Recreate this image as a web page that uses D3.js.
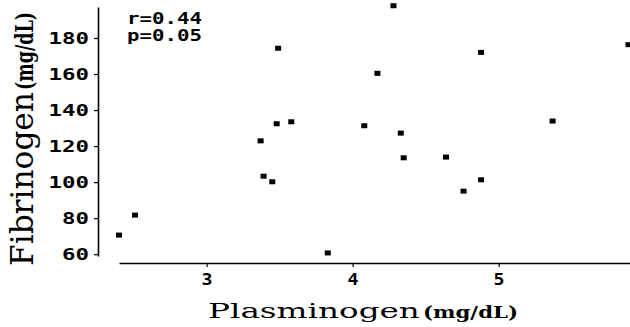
<!DOCTYPE html>
<html>
<head>
<meta charset="utf-8">
<script src="https://cdn.jsdelivr.net/npm/d3@7"></script>
<style>
  html, body { margin: 0; padding: 0; background: #fff; }
  svg { display: block; }
  .tick-label { font-family: "DejaVu Sans Mono", monospace; font-weight: bold; font-size: 15px; fill: #000; }
  .title { font-family: "DejaVu Serif", serif; fill: #000; }
</style>
</head>
<body>
<svg id="chart" width="630" height="327"></svg>
<script>
// Plasminogen (mg/dL) vs Fibrinogen (mg/dL)
const plasminogen = [2.40, 2.51, 3.37, 3.39, 3.45, 3.48, 3.49, 3.58, 3.83, 4.08,
  4.17, 4.28, 4.33, 4.35, 4.64, 4.76, 4.88, 4.88, 5.37, 5.89];
const fibrinogen = [70.6, 81.7, 122.9, 103.3, 100.2, 132.4, 174.3, 133.5, 60.7, 131.3,
  160.4, 197.9, 127.2, 113.5, 113.9, 95.0, 101.3, 172.0, 133.9, 176.3];

const xTicks = [3, 4, 5];
const yTicks = [60, 80, 100, 120, 140, 160, 180];
const statLines = ['r=0.44', 'p=0.05'];

const xTitle = ['Plasminogen', '(mg/dL)'];
const yTitle = ['Fibrinogen', '(mg/dL)'];

const svg = d3.select('#chart');

// Axes are offset from each other (no shared corner)
const x = d3.scaleLinear().domain([2.4, 5.9]).range([119, 630]);
const y = d3.scaleLinear().domain([59, 197.2]).range([256, 7]);

const xAxisY = 263;
const yAxisX = 98;

// Stretch a text along its own direction so it spans `len` pixels.
// Uses a transform rather than textLength so the real box matches what is drawn.
function fitText(sel, len) {
  sel.each(function () {
    const w = this.getComputedTextLength();
    const t = d3.select(this);
    const x0 = +t.attr('x') || 0;
    const y0 = +t.attr('y') || 0;
    t.attr('x', 0).attr('y', 0)
      .attr('transform', `translate(${x0},${y0}) scale(${len / w},1)`);
  });
}

/***********************************************************************************************
 *
 * Axes
 *
 **********************************************************************************************/

const yAxis = svg.append('g')
  .attr('transform', `translate(${yAxisX},0)`)
  .call(d3.axisLeft(y).tickValues(yTicks).tickFormat(d3.format('d'))
    .tickSize(4).tickPadding(5).tickSizeOuter(0));

const xAxis = svg.append('g')
  .attr('transform', `translate(0,${xAxisY})`)
  .call(d3.axisBottom(x).tickValues(xTicks).tickFormat(d3.format('d'))
    .tickSize(4).tickPadding(6).tickSizeOuter(0));

[xAxis, yAxis].forEach((ax) => {
  ax.select('.domain').attr('stroke', '#000').attr('stroke-width', 1.6);
  ax.selectAll('.tick line').attr('stroke', '#000').attr('stroke-width', 1.2);
  ax.selectAll('.tick text')
    .attr('class', 'tick-label')
    .attr('font-family', null)
    .attr('font-size', null)
    .attr('textLength', (d) => String(d).length * 13.5)
    .attr('lengthAdjust', 'spacingAndGlyphs');
});

yAxis.selectAll('.tick text').attr('dy', '0.36em');
xAxis.selectAll('.tick text').attr('dy', '0.78em').attr('textLength', 11);

/***********************************************************************************************
 *
 * Points
 *
 **********************************************************************************************/

const pts = plasminogen.map((p, i) => ({ p, f: fibrinogen[i] }));

svg.append('g').selectAll('rect')
  .data(pts)
  .join('rect')
    .attr('x', (d) => x(d.p) - 3)
    .attr('y', (d) => y(d.f) - 2.5)
    .attr('width', 6)
    .attr('height', 5)
    .attr('fill', '#000');

/***********************************************************************************************
 *
 * Stats annotation and axis titles
 *
 **********************************************************************************************/

svg.append('g').selectAll('text')
  .data(statLines)
  .join('text')
    .attr('class', 'tick-label')
    .attr('x', 127)
    .attr('y', (d, i) => 24 + i * 16.5)
    .text((d) => d)
    .call(fitText, 75);

// x title: big serif word then smaller bold unit
svg.append('text')
  .attr('class', 'title')
  .attr('x', 208)
  .attr('y', 318)
  .attr('font-size', 21)
  .text(xTitle[0])
  .call(fitText, 212);

svg.append('text')
  .attr('class', 'title')
  .attr('x', 423)
  .attr('y', 318)
  .attr('font-size', 17)
  .attr('font-weight', 'bold')
  .text(xTitle[1])
  .call(fitText, 95);

// y title, rotated
const yTitleG = svg.append('g').attr('transform', 'translate(33,266) rotate(-90)');

yTitleG.append('text')
  .attr('class', 'title')
  .attr('font-size', 31)
  .text(yTitle[0])
  .call(fitText, 174);

yTitleG.append('text')
  .attr('class', 'title')
  .attr('x', 176)
  .attr('font-size', 25)
  .attr('font-weight', 'bold')
  .text(yTitle[1])
  .call(fitText, 78);
</script>
</body>
</html>
